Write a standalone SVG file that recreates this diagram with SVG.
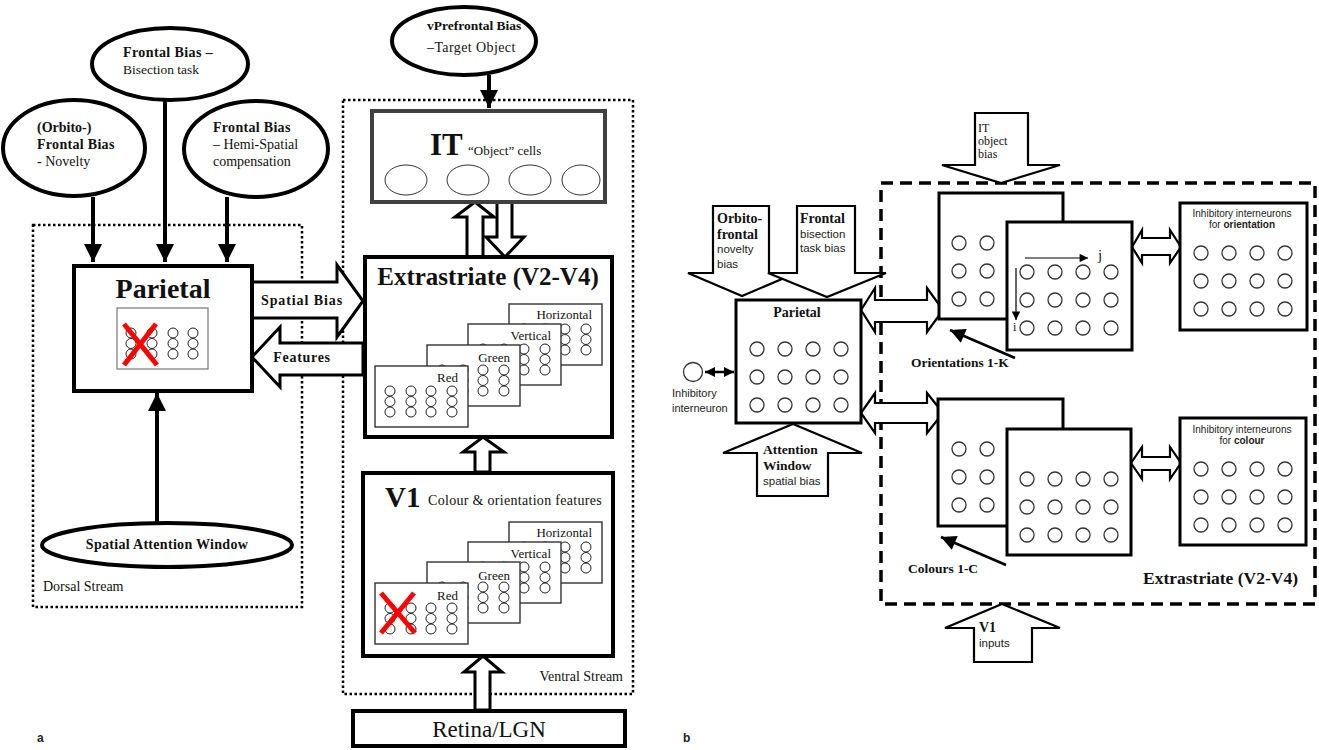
<svg xmlns="http://www.w3.org/2000/svg" xmlns:xlink="http://www.w3.org/1999/xlink" width="1319" height="750" viewBox="0 0 1319 750">
<style>
.serif{font-family:"Liberation Serif","Times New Roman",serif;fill:#111}
.sans{font-family:"Liberation Sans",Arial,sans-serif;fill:#222}
.b{font-weight:bold}
.thick{fill:none;stroke:#000;stroke-width:4}
.ell{fill:#fff;stroke:#000;stroke-width:4}
.dot{fill:none;stroke:#000;stroke-width:2.5;stroke-dasharray:2.5 2.5}
.dash{fill:none;stroke:#000;stroke-width:3.5;stroke-dasharray:12 7}
.blk{fill:#fff;stroke:#000;stroke-width:3;stroke-linejoin:miter}
.blk2{fill:#fff;stroke:#000;stroke-width:2.2;stroke-linejoin:miter}
.box{fill:#fff;stroke:#000;stroke-width:3}
.card{fill:#fff;stroke:#333;stroke-width:1.4}
.c{fill:#fff;stroke:#222;stroke-width:1}
.cb{fill:#fff;stroke:#333;stroke-width:1.3}
.x{stroke:#f00;stroke-width:5;stroke-linecap:butt}
.ln{fill:none;stroke:#000;stroke-width:4}
.thin{fill:none;stroke:#000;stroke-width:1.2}
.med{fill:none;stroke:#000;stroke-width:2.5}
</style>
<defs>
<marker id="ah" viewBox="0 0 10 10" refX="10" refY="5" markerWidth="5" markerHeight="4.5" markerUnits="strokeWidth" orient="auto"><path d="M0,0 L10,5 L0,10 Z" fill="#000"/></marker>
<marker id="ahs" viewBox="0 0 10 10" refX="10" refY="5" markerWidth="7" markerHeight="6" markerUnits="strokeWidth" orient="auto"><path d="M0,0 L10,5 L0,10 Z" fill="#000"/></marker>
<marker id="aht" viewBox="0 0 10 10" refX="10" refY="5" markerWidth="9" markerHeight="7" markerUnits="strokeWidth" orient="auto"><path d="M0,0 L10,5 L0,10 Z" fill="#000"/></marker>
<marker id="ahd" viewBox="0 0 10 10" refX="10" refY="5" markerWidth="4.5" markerHeight="4" markerUnits="strokeWidth" orient="auto-start-reverse"><path d="M0,0 L10,5 L0,10 Z" fill="#000"/></marker>
<g id="card">
<rect class="card" x="0" y="0" width="93" height="61"/>
<circle class="c" cx="15" cy="25" r="5"/><circle class="c" cx="15" cy="35.5" r="5"/><circle class="c" cx="15" cy="46" r="5"/>
<circle class="c" cx="36" cy="25" r="5"/><circle class="c" cx="36" cy="35.5" r="5"/><circle class="c" cx="36" cy="46" r="5"/>
<circle class="c" cx="56" cy="25" r="5"/><circle class="c" cx="56" cy="35.5" r="5"/><circle class="c" cx="56" cy="46" r="5"/>
<circle class="c" cx="77" cy="25" r="5"/><circle class="c" cx="77" cy="35.5" r="5"/><circle class="c" cx="77" cy="46" r="5"/>
</g>
<g id="grid">
<circle class="cb" cx="20" cy="50" r="7"/><circle class="cb" cx="48" cy="50" r="7"/><circle class="cb" cx="76" cy="50" r="7"/><circle class="cb" cx="104" cy="50" r="7"/>
<circle class="cb" cx="20" cy="78" r="7"/><circle class="cb" cx="48" cy="78" r="7"/><circle class="cb" cx="76" cy="78" r="7"/><circle class="cb" cx="104" cy="78" r="7"/>
<circle class="cb" cx="20" cy="106" r="7"/><circle class="cb" cx="48" cy="106" r="7"/><circle class="cb" cx="76" cy="106" r="7"/><circle class="cb" cx="104" cy="106" r="7"/>
</g>
</defs>
<rect width="1319" height="750" fill="#fff"/>

<!-- Panel a: stream boxes -->
<g id="dorsal-stream"><rect class="dot" x="33" y="225" width="269" height="382"/>
<text class="serif" x="43" y="591" font-size="14">Dorsal Stream</text></g>
<g id="ventral-stream"><rect class="dot" x="343" y="100" width="290" height="594"/>
<text class="serif" x="623" y="681" font-size="14" text-anchor="end">Ventral Stream</text></g>

<!-- Connectors panel a -->
<g id="connectors-a">
<line class="ln" x1="93" y1="197" x2="93" y2="262" marker-end="url(#ah)"/>
<line class="ln" x1="165" y1="100" x2="165" y2="262" marker-end="url(#ah)"/>
<line class="ln" x1="227" y1="197" x2="227" y2="262" marker-end="url(#ah)"/>
<line class="ln" x1="157" y1="523" x2="157" y2="393" marker-end="url(#ah)"/>
<line class="ln" x1="489" y1="75" x2="489" y2="108" marker-end="url(#ah)"/>
<path class="blk" d="M252,282 L337,282 L337,265 L363,301 L337,337 L337,318 L252,318 Z"/>
<path class="blk" d="M363,343 L280,343 L280,327 L252,357 L280,387 L280,375 L363,375 Z"/>
<path class="blk" d="M467,257 L467,217 L455,217 L475,202 L494,217 L483,217 L483,257 Z"/>
<path class="blk" d="M497,202 L497,237 L486,237 L505,257 L524,237 L512,237 L512,202 Z"/>
<path class="blk" d="M475,472 L475,452 L463,452 L483,437 L504,452 L490,452 L490,472 Z"/>
<path class="blk" d="M475,710 L475,672 L464,672 L483,656 L502,672 L490,672 L490,710 Z"/>
<text class="serif b" x="302" y="305" font-size="14" text-anchor="middle" letter-spacing="0.9">Spatial Bias</text>
<text class="serif b" x="302" y="362" font-size="14" text-anchor="middle" letter-spacing="0.7">Features</text>
</g>

<g id="frontal-bisection"><ellipse class="ell" cx="170" cy="64" rx="78" ry="36"/>
<text class="serif b" x="123" y="57" font-size="14" letter-spacing="0.4">Frontal Bias –</text>
<text class="serif" x="123" y="74" font-size="13.5">Bisection task</text></g>

<g id="orbito-frontal"><ellipse class="ell" cx="74" cy="148" rx="71" ry="48"/>
<text class="serif b" x="37" y="132" font-size="14">(Orbito-)</text>
<text class="serif b" x="37" y="149" font-size="14" letter-spacing="0.3">Frontal Bias</text>
<text class="serif" x="37" y="166" font-size="14">- Novelty</text></g>

<g id="frontal-hemispatial"><ellipse class="ell" cx="256" cy="149" rx="72" ry="48"/>
<text class="serif b" x="213" y="132" font-size="14" letter-spacing="0.3">Frontal Bias</text>
<text class="serif" x="213" y="149" font-size="14">– Hemi-Spatial</text>
<text class="serif" x="213" y="166" font-size="14">compensation</text></g>

<g id="parietal-a"><rect class="thick" x="74" y="266" width="178" height="125" fill="#fff"/>
<text class="serif b" x="163" y="298" font-size="28" text-anchor="middle">Parietal</text>
<rect x="117" y="308" width="91" height="61" fill="#fff" stroke="#777" stroke-width="1.2"/>
<circle class="c" cx="131" cy="333" r="5"/><circle class="c" cx="131" cy="343.5" r="5"/><circle class="c" cx="131" cy="354" r="5"/>
<circle class="c" cx="152" cy="333" r="5"/><circle class="c" cx="152" cy="343.5" r="5"/><circle class="c" cx="152" cy="354" r="5"/>
<circle class="c" cx="173" cy="333" r="5"/><circle class="c" cx="173" cy="343.5" r="5"/><circle class="c" cx="173" cy="354" r="5"/>
<circle class="c" cx="193" cy="333" r="5"/><circle class="c" cx="193" cy="343.5" r="5"/><circle class="c" cx="193" cy="354" r="5"/>
<line class="x" x1="124" y1="324" x2="157" y2="365"/><line class="x" x1="156" y1="324" x2="124" y2="365"/></g>

<g id="spatial-attention-window"><ellipse class="ell" cx="167" cy="545" rx="125" ry="22"/>
<text class="serif b" x="167" y="549" font-size="14" text-anchor="middle" letter-spacing="0.3">Spatial Attention Window</text></g>

<g id="vprefrontal"><ellipse class="ell" cx="464" cy="41" rx="72" ry="34"/>
<text class="serif b" x="427" y="30" font-size="13.5">vPrefrontal Bias</text>
<text class="serif" x="427" y="52" font-size="14" letter-spacing="0.4">–Target Object</text></g>

<g id="it-a"><rect x="372" y="111" width="233" height="91" fill="#fff" stroke="#404040" stroke-width="4"/>
<text class="serif b" x="430" y="155" font-size="31">IT</text>
<text class="serif" x="468" y="155" font-size="13">“Object” cells</text>
<ellipse cx="406" cy="180" rx="21" ry="15" fill="#fff" stroke="#333" stroke-width="1"/>
<ellipse cx="468" cy="180" rx="21" ry="15" fill="#fff" stroke="#333" stroke-width="1"/>
<ellipse cx="530" cy="180" rx="21" ry="15" fill="#fff" stroke="#333" stroke-width="1"/>
<ellipse cx="581" cy="180" rx="19" ry="15" fill="#fff" stroke="#333" stroke-width="1"/></g>

<g id="extrastriate-a"><rect class="thick" x="365" y="257" width="247" height="180" fill="#fff"/>
<text class="serif b" x="488" y="285" font-size="25" text-anchor="middle">Extrastriate (V2-V4)</text>
<use xlink:href="#card" href="#card" x="509" y="304"/>
<use xlink:href="#card" href="#card" x="468" y="324"/>
<use xlink:href="#card" href="#card" x="427" y="345"/>
<use xlink:href="#card" href="#card" x="375" y="366"/>
<text class="serif" x="592" y="319" font-size="13" text-anchor="end">Horizontal</text>
<text class="serif" x="551" y="340" font-size="13" text-anchor="end">Vertical</text>
<text class="serif" x="510" y="362" font-size="13" text-anchor="end">Green</text>
<text class="serif" x="458" y="382" font-size="13" text-anchor="end">Red</text></g>

<g id="v1-a"><rect class="thick" x="363" y="473" width="250" height="183" fill="#fff"/>
<text class="serif b" x="385" y="507" font-size="29">V1</text>
<text class="serif" x="428" y="505" font-size="14" letter-spacing="0.3">Colour &amp; orientation features</text>
<use xlink:href="#card" href="#card" x="509" y="522"/>
<use xlink:href="#card" href="#card" x="468" y="542"/>
<use xlink:href="#card" href="#card" x="427" y="562"/>
<use xlink:href="#card" href="#card" x="375" y="583"/>
<text class="serif" x="592" y="537" font-size="13" text-anchor="end">Horizontal</text>
<text class="serif" x="551" y="558" font-size="13" text-anchor="end">Vertical</text>
<text class="serif" x="510" y="580" font-size="13" text-anchor="end">Green</text>
<text class="serif" x="458" y="600" font-size="13" text-anchor="end">Red</text>
<line class="x" x1="381" y1="593" x2="415" y2="633"/><line class="x" x1="414" y1="593" x2="381" y2="633"/></g>

<g id="retina-lgn"><rect class="thick" x="353" y="711" width="272" height="35" fill="#fff"/>
<text class="serif" x="489" y="737" font-size="23" text-anchor="middle">Retina/LGN</text></g>

<text class="sans b" x="37" y="742" font-size="12" fill="#000">a</text>
<text class="sans b" x="683" y="742" font-size="12" fill="#000">b</text>

<!-- Panel b -->
<g id="extrastriate-b"><rect class="dash" x="881" y="183" width="434" height="421"/>
<text class="serif b" x="1298" y="584" font-size="17.5" text-anchor="end">Extrastriate (V2-V4)</text></g>

<g id="connectors-b">
<path class="blk2" d="M713,206 L769,206 L769,273 L796,273 L742,296 L688,273 L713,273 Z"/>
<path class="blk2" d="M797,206 L855,206 L855,273 L886,273 L827,297 L768,273 L797,273 Z"/>
<path class="blk2" d="M757,496 L757,453 L723,453 L793,424 L862,453 L828,453 L828,496 Z"/>
<path class="blk2" d="M975,113 L1028,113 L1028,165 L1060,165 L1001,183 L942,165 L975,165 Z"/>
<path class="blk2" d="M974,662 L974,628 L945,628 L1002,604 L1060,628 L1032,628 L1032,662 Z"/>
<path class="blk2" d="M861,310 L875,288 L875,300 L927,300 L927,288 L943,310 L927,332 L927,322 L875,322 L875,332 Z"/>
<path class="blk2" d="M861,413 L875,393 L875,403 L927,403 L927,393 L943,413 L927,433 L927,423 L875,423 L875,433 Z"/>
<path class="blk2" d="M1132,247 L1142,230 L1142,238 L1170,238 L1170,230 L1181,247 L1170,263 L1170,255 L1142,255 L1142,263 Z"/>
<path class="blk2" d="M1131,463 L1142,447 L1142,457 L1170,457 L1170,447 L1181,463 L1170,479 L1170,470 L1142,470 L1142,479 Z"/>
<line class="med" x1="705" y1="372" x2="734" y2="372" marker-start="url(#ahd)" marker-end="url(#ahd)"/>
<line class="med" x1="1015" y1="358" x2="950" y2="330" marker-end="url(#ahs)"/>
<line class="med" x1="1006" y1="565" x2="941" y2="537" marker-end="url(#ahs)"/>
<text class="serif b" x="717" y="223" font-size="14">Orbito-</text>
<text class="serif b" x="717" y="239" font-size="14">frontal</text>
<text class="sans" x="717" y="253" font-size="11.5">novelty</text>
<text class="sans" x="717" y="268" font-size="11.5">bias</text>
<text class="serif b" x="800" y="223" font-size="14">Frontal</text>
<text class="sans" x="800" y="238" font-size="11.5">bisection</text>
<text class="sans" x="800" y="252" font-size="11.5">task bias</text>
<text class="serif b" x="763" y="454" font-size="13.5">Attention</text>
<text class="serif b" x="763" y="470" font-size="13.5">Window</text>
<text class="sans" x="763" y="485" font-size="11.5">spatial bias</text>
<text class="serif" x="978" y="132" font-size="12">IT</text>
<text class="serif" x="978" y="145" font-size="12">object</text>
<text class="serif" x="978" y="158" font-size="12">bias</text>
<text class="serif b" x="979" y="632" font-size="14">V1</text>
<text class="sans" x="979" y="647" font-size="11.5">inputs</text>
<text class="serif b" x="911" y="367" font-size="13.5">Orientations 1-K</text>
<text class="serif b" x="908" y="573" font-size="13.5">Colours 1-C</text>
</g>

<g id="inhibitory-interneuron"><circle cx="693" cy="372" r="9.5" fill="#fff" stroke="#333" stroke-width="1.3"/>
<text class="sans" x="672" y="397" font-size="11">Inhibitory</text>
<text class="sans" x="672" y="412" font-size="11">interneuron</text></g>

<g id="parietal-b"><rect class="box" x="736" y="300" width="125" height="123"/>
<text class="serif b" x="797" y="317" font-size="14" text-anchor="middle">Parietal</text>
<use xlink:href="#grid" href="#grid" x="737" y="299"/></g>

<g id="orientation-maps"><rect class="box" x="939" y="193" width="124" height="126"/>
<use xlink:href="#grid" href="#grid" x="939" y="193"/>
<rect class="box" x="1007" y="222" width="125" height="128"/>
<use xlink:href="#grid" href="#grid" x="1007" y="222"/>
<line class="thin" x1="1025" y1="258" x2="1088" y2="258" marker-end="url(#aht)"/>
<line class="thin" x1="1016" y1="268" x2="1016" y2="320" marker-end="url(#aht)"/>
<text class="serif" x="1098" y="260" font-size="15">j</text>
<text class="serif" x="1013" y="331" font-size="12">i</text></g>

<g id="colour-maps"><rect class="box" x="938" y="399" width="125" height="127"/>
<use xlink:href="#grid" href="#grid" x="939" y="399"/>
<rect class="box" x="1007" y="429" width="124" height="126"/>
<use xlink:href="#grid" href="#grid" x="1007" y="429"/></g>

<g id="inhib-orientation"><rect class="box" x="1180" y="203" width="127" height="127"/>
<text class="sans" x="1242" y="217" font-size="10" text-anchor="middle">Inhibitory interneurons</text>
<text class="sans" x="1242" y="228" font-size="10" text-anchor="middle">for <tspan font-weight="bold">orientation</tspan></text>
<use xlink:href="#grid" href="#grid" x="1181" y="203"/></g>

<g id="inhib-colour"><rect class="box" x="1180" y="418" width="126" height="127"/>
<text class="sans" x="1242" y="433" font-size="10" text-anchor="middle">Inhibitory interneurons</text>
<text class="sans" x="1242" y="444" font-size="10" text-anchor="middle">for <tspan font-weight="bold">colour</tspan></text>
<use xlink:href="#grid" href="#grid" x="1181" y="419"/></g>
</svg>
